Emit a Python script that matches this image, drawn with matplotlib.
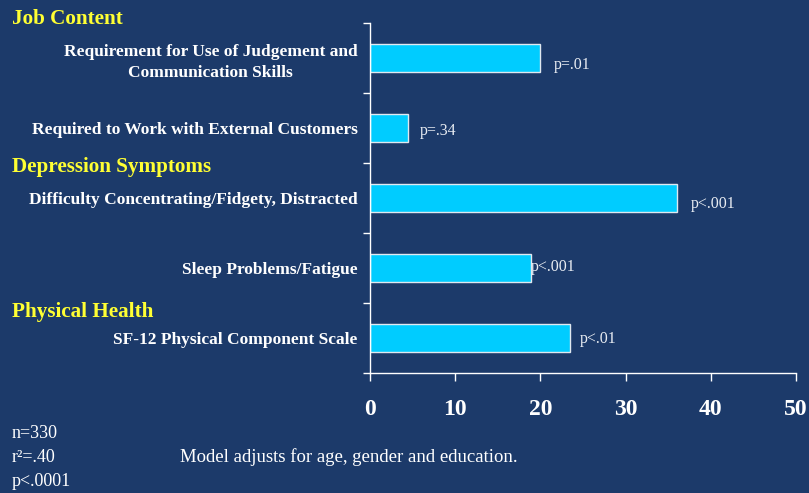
import matplotlib
matplotlib.use("Agg")
import matplotlib.pyplot as plt

categories = [
    "Requirement for Use of Judgement and\nCommunication Skills",
    "Required to Work with External Customers",
    "Difficulty Concentrating/Fidgety, Distracted",
    "Sleep Problems/Fatigue",
    "SF-12 Physical Component Scale",
]
values = [20.0, 4.5, 36.0, 18.9, 23.5]
p_labels = ["p=.01", "p=.34", "p<.001", "p<.001", "p<.01"]
label_offsets = [10, 8, 10, 0, 7]  # points right of bar end
label_drop = [-5, -2, -4, 1, -1]    # points vertical shift
x_ticks = [0, 10, 20, 30, 40, 50]
headers = ["Job Content", "Depression Symptoms", "Physical Health"]
header_y_px = [19, 167, 312]
notes_left = ["n=330", "r\u00b2=.40", "p<.0001"]
note_right = "Model adjusts for age, gender and education."

BG = "#1c3a6a"
BAR = "#00ccff"
W, H = 809, 493

fig = plt.figure(figsize=(W / 100, H / 100), dpi=100, facecolor=BG)
ax = fig.add_axes([370 / W, 1 - 373 / H, (796 - 370) / W, (373 - 23) / H])
ax.set_facecolor(BG)

n = len(categories)
ypos = list(range(n - 1, -1, -1))
ax.barh(ypos, values, height=0.4, color=BAR, edgecolor="#e0e8f0", linewidth=1.0)

for y, v, lab, dx, dy in zip(ypos, values, p_labels, label_offsets, label_drop):
    ax.annotate(lab, (v, y), xytext=(dx, dy), textcoords="offset points",
                ha="left", va="center", color="#e8ecf2", fontsize=11.5,
                family="Liberation Serif")

ax.set_xlim(0, 50)
ax.set_ylim(-0.5, n - 0.5)
ax.set_xticks(x_ticks)
ax.set_xticklabels([str(t) for t in x_ticks], fontsize=17, fontweight="bold",
                   color="white", family="Liberation Serif")
ax.tick_params(axis="x", colors="white", length=6, width=1, pad=13, labelcolor="white")

ax.set_yticks(ypos)
ax.set_yticklabels(categories, fontsize=12.5, fontweight="bold", color="white",
                   family="Liberation Serif", multialignment="center",
                   linespacing=1.45)
ax.tick_params(axis="y", length=0, pad=9)
ax.set_yticks([i - 0.5 for i in range(n + 1)], minor=True)
ax.tick_params(axis="y", which="minor", length=5, width=1, color="white")

for side in ["top", "right"]:
    ax.spines[side].set_visible(False)
for side in ["left", "bottom"]:
    ax.spines[side].set_color("white")
    ax.spines[side].set_linewidth(1)

for h, ypx in zip(headers, header_y_px):
    fig.text(12 / W, 1 - ypx / H, h, color="#ffff33", fontsize=15.2,
             fontweight="bold", family="Liberation Serif", ha="left", va="center")

for i, t in enumerate(notes_left):
    fig.text(12 / W, 1 - (433 + 24 * i) / H, t, color="white", fontsize=13,
             family="Liberation Serif", ha="left", va="center")
fig.text(180 / W, 1 - 457 / H, note_right, color="white", fontsize=13.5,
         family="Liberation Serif", ha="left", va="center")

fig.savefig("out.png", dpi=100, facecolor=BG)
